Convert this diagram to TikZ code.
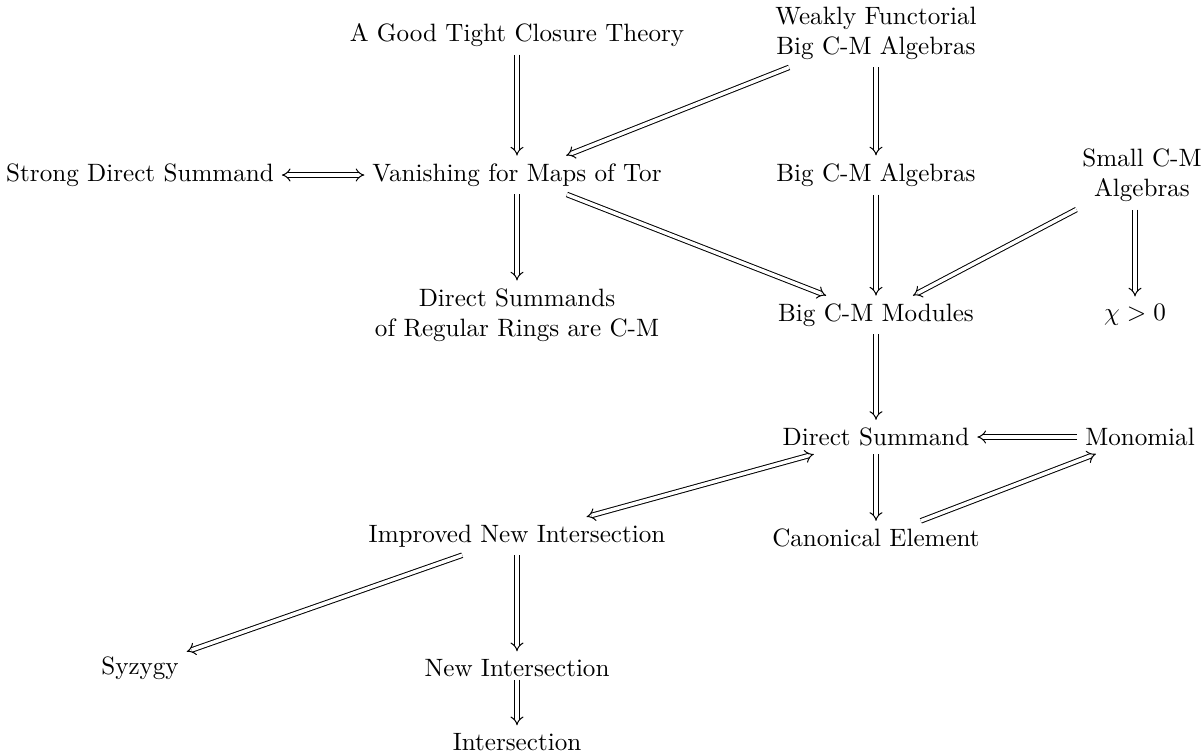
\documentclass[tikz,border=0pt]{standalone}
\usepackage{amssymb}
\usetikzlibrary{
  arrows,
  arrows.meta
}

\begin{document}
\begin{tikzpicture}[
      x=0.3984pt,y=-0.3984pt,
      stmt/.style={
         align=center,
         inner sep=3pt
      },
      impl/.style={
         double,
         double distance=1.4pt,
         line width=0.4pt,
         -{Implies[scale=1.3]}
      },
      both/.style={
         impl,
         {Implies[scale=1.3]}-{Implies[scale=1.3]}
      }
    ]
    \useasboundingbox (0,0) rectangle (1201,754);

    % first row
    \node (tight)    [stmt] at (517,35)   {A Good Tight Closure Theory};
    \node (weakly)   [stmt] at (876,33)   {Weakly Functorial\\Big C-M Algebras};
    % second row
    \node (strong)   [stmt] at (140,175)  {Strong Direct Summand};
    \node (vanish)   [stmt] at (517,175)  {Vanishing for Maps of Tor};
    \node (bigalg)   [stmt] at (876,175)  {Big C-M Algebras};
    \node (small)    [stmt] at (1142,175) {Small C-M\\Algebras};
    % third row
    \node (dsreg)    [stmt] at (517,315)  {Direct Summands\\of Regular Rings are C-M};
    \node (bigmod)   [stmt] at (876,315)  {Big C-M Modules};
    \node (chi)      [stmt] at (1135,315) {$\chi > 0$};
    % lower part
    \node (dsum)     [stmt] at (876,437)  {Direct Summand};
    \node (mono)     [stmt] at (1140,437) {Monomial};
    \node (improved) [stmt] at (517,536)  {Improved New Intersection};
    \node (canon)    [stmt] at (876,538)  {Canonical Element};
    \node (syzygy)   [stmt] at (140,668)  {Syzygy};
    \node (newint)   [stmt] at (517,668)  {New Intersection};
    \node (inter)    [stmt] at (517,742)  {Intersection};

    \draw [impl] (tight) -- (vanish);
    \draw [impl] (weakly) -- (vanish);
    \draw [impl] (weakly) -- (bigalg);
    \draw [both] (strong) -- (vanish);
    \draw [impl] (vanish) -- (dsreg);
    \draw [impl] (vanish) -- (bigmod);
    \draw [impl] (bigalg) -- (bigmod);
    \draw [impl] (small) -- (bigmod);
    \draw [impl] (chi |- small.south) -- (chi);
    \draw [impl] (bigmod) -- (dsum);
    \draw [impl] (mono) -- (dsum);
    \draw [both] (improved) -- (dsum);
    \draw [impl] (dsum) -- (canon);
    \draw [impl] (canon) -- (mono);
    \draw [impl] (improved) -- (syzygy);
    \draw [impl] (improved) -- (newint);
    \draw [impl, shorten <=-2pt] (newint) -- (inter);
\end{tikzpicture}
\end{document}
